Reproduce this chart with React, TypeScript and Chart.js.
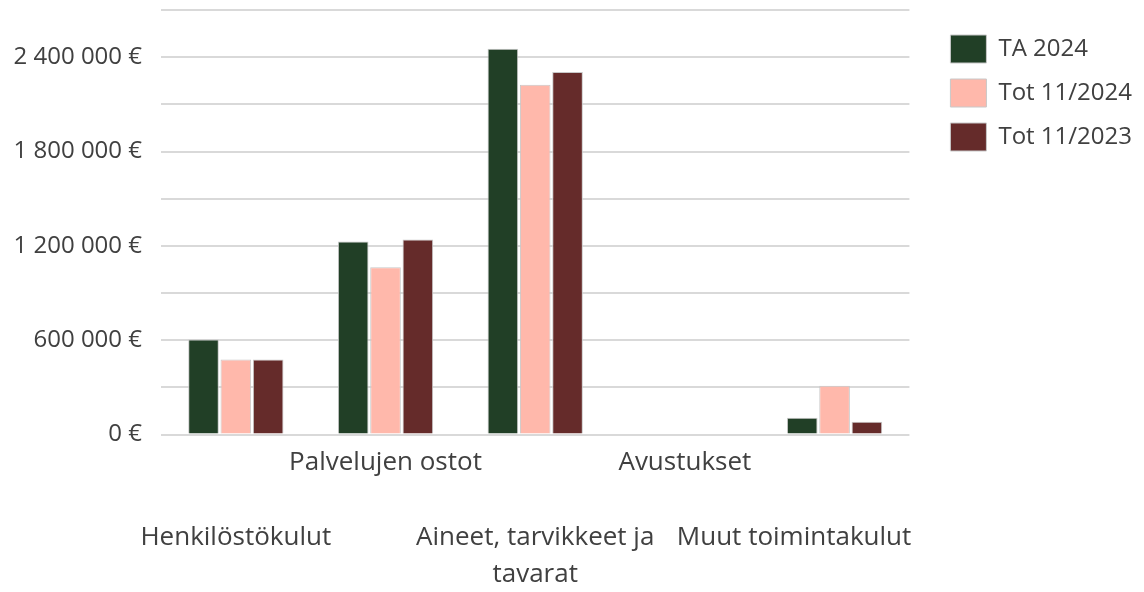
import React, { useEffect, useRef } from 'react';
import { Chart, registerables } from 'chart.js';

Chart.register(...registerables);

const categories = [
  'Henkilöstökulut',
  'Palvelujen ostot',
  'Aineet, tarvikkeet ja tavarat',
  'Avustukset',
  'Muut toimintakulut',
];

// Staggered tick label lines (Excel-like alternate rows)
const tickLabelLines: string[][] = [
  ['', '', 'Henkilöstökulut'],
  ['Palvelujen ostot'],
  ['', '', 'Aineet, tarvikkeet ja', 'tavarat'],
  ['Avustukset'],
  ['', '', 'Muut toimintakulut' + '\u00A0'.repeat(12)],
];

const seriesNames = ['TA 2024', 'Tot 11/2024', 'Tot 11/2023'];
const ta2024 = [604000, 1228000, 2454000, 0, 106000];
const tot112024 = [477000, 1063000, 2225000, 0, 310000];
const tot112023 = [477000, 1241000, 2305000, 0, 81000];
const seriesColors = ['#213F26', '#FFB8AB', '#652B2A'];

const yMax = 2700000;
const yStep = 300000;
const yLabelStep = 600000;

const FONT = "'Open Sans', 'Noto Sans', sans-serif";
const TEXT = '#404040';

function fmtEuro(v: number): string {
  const s = Math.round(v).toString().replace(/\B(?=(\d{3})+(?!\d))/g, ' ');
  return s + ' €';
}

export default function App() {
  const ref = useRef<HTMLCanvasElement | null>(null);

  useEffect(() => {
    if (!ref.current) return;
    const values = [ta2024, tot112024, tot112023];
    const chart = new Chart(ref.current, {
      type: 'bar',
      data: {
        labels: categories,
        datasets: seriesNames.map((name, i) => ({
          label: name,
          data: values[i],
          backgroundColor: seriesColors[i],
          borderColor: '#c8c8c8',
          borderWidth: 1,
          categoryPercentage: 0.648,
          barPercentage: 0.947,
          yAxisID: 'y',
        })),
      },
      options: {
        animation: false,
        responsive: false,
        maintainAspectRatio: false,
        layout: { padding: { top: 10, left: 0, right: 2, bottom: 0 } },
        plugins: {
          legend: {
            position: 'right',
            align: 'start',
            maxWidth: 400,
            title: {
              display: true,
              text: '',
              font: { size: 1, lineHeight: 1 },
              padding: { top: 8, bottom: 0 },
            },
            labels: {
              boxWidth: 36,
              boxHeight: 28,
              padding: 16,
              color: TEXT,
              font: { family: FONT, size: 24 },
            },
          },
          tooltip: { enabled: false },
        },
        scales: {
          x: {
            grid: { display: false, drawTicks: false },
            border: { display: false },
            ticks: {
              autoSkip: false,
              maxRotation: 0,
              minRotation: 0,
              padding: 9,
              color: TEXT,
              font: { family: FONT, size: 26, lineHeight: '37.5px' },
              callback: (_v: any, i: number) => tickLabelLines[i],
            },
            afterFit: (s: any) => {
              s.height = 157.5;
              s.paddingLeft = 0;
              s.paddingRight = 0;
            },
          },
          y: {
            min: 0,
            max: yMax,
            grid: { color: '#d9d9d9', lineWidth: 2, drawTicks: false },
            border: { display: false },
            ticks: {
              stepSize: yStep,
              padding: 19,
              color: TEXT,
              font: { family: FONT, size: 24 },
              callback: (v: any) => (Number(v) % yLabelStep === 0 ? fmtEuro(Number(v)) : ''),
            },
            afterFit: (s: any) => {
              s.width = 161;
              s.paddingTop = 0;
              s.paddingBottom = 0;
            },
          },
          yRight: {
            position: 'right',
            display: true,
            grid: { display: false },
            border: { display: false },
            ticks: { display: false },
            afterFit: (s: any) => {
              s.width = 25;
              s.paddingTop = 0;
              s.paddingBottom = 0;
            },
          },
        },
      } as any,
    });
    return () => chart.destroy();
  }, []);

  return (
    <div style={{ position: 'absolute', left: 0, top: 0, width: 1144, height: 592, background: '#fff' }}>
      <canvas ref={ref} width={1144} height={592} style={{ display: 'block' }} />
    </div>
  );
}
